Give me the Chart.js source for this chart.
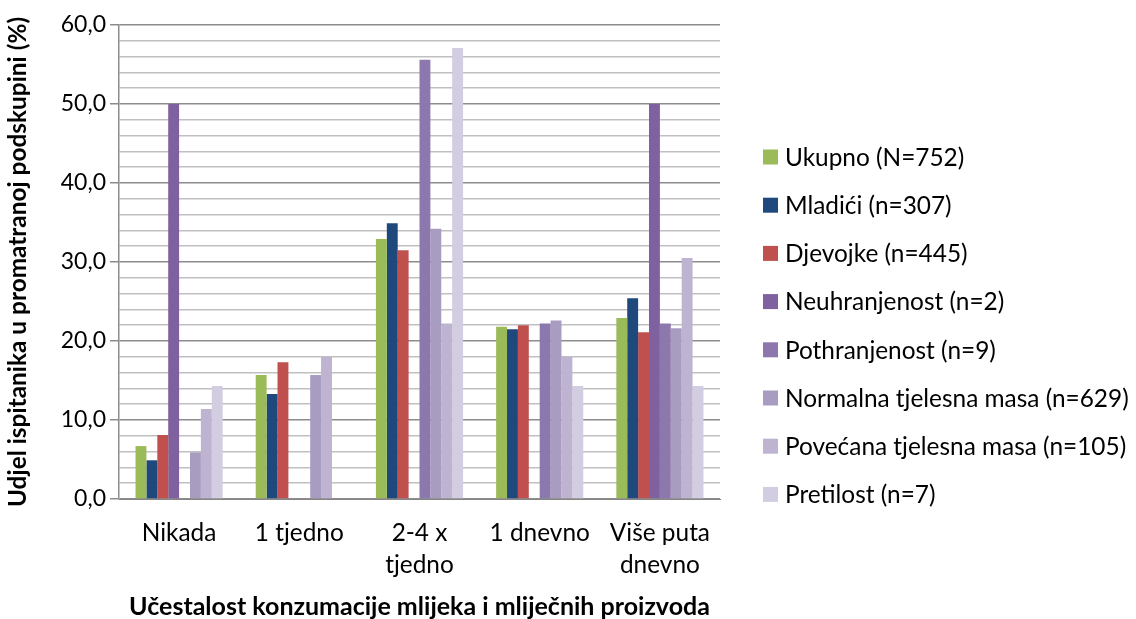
<!DOCTYPE html>
<html>
<head>
<meta charset="utf-8">
<script src="https://cdn.jsdelivr.net/npm/chart.js@4.4.1/dist/chart.umd.min.js"></script>
<style>
  html, body { margin: 0; padding: 0; background: #ffffff; }
  #wrap { width: 1136px; height: 619px; position: relative; }
</style>
</head>
<body>
<div id="wrap"><canvas id="c" width="1136" height="619"></canvas></div>
<script>
const categories = ["Nikada", "1 tjedno", ["2-4 x", "tjedno"], "1 dnevno", ["Više puta", "dnevno"]];
const seriesNames = [
  "Ukupno (N=752)",
  "Mladići (n=307)",
  "Djevojke (n=445)",
  "Neuhranjenost (n=2)",
  "Pothranjenost (n=9)",
  "Normalna tjelesna masa (n=629)",
  "Povećana tjelesna masa (n=105)",
  "Pretilost (n=7)"
];
const ukupno        = [6.7, 15.7, 32.9, 21.8, 22.9];
const mladici       = [4.9, 13.3, 34.9, 21.5, 25.4];
const djevojke      = [8.1, 17.3, 31.5, 22.0, 21.1];
const neuhranjenost = [50.0, 0.0, 0.0, 0.0, 50.0];
const pothranjenost = [0.0, 0.0, 55.6, 22.2, 22.2];
const normalna      = [5.9, 15.7, 34.2, 22.6, 21.6];
const povecana      = [11.4, 18.0, 22.2, 18.0, 30.5];
const pretilost     = [14.3, 0.0, 57.1, 14.3, 14.3];
const yTicks = [0, 10, 20, 30, 40, 50, 60];

const colors = ["#9BBB59", "#1F497D", "#C0504D", "#7E619E", "#8D78AD", "#A99CC1", "#BEB3D1", "#D3CDE1"];
const values = [ukupno, mladici, djevojke, neuhranjenost, pothranjenost, normalna, povecana, pretilost];

const FONT = "Lato, 'Liberation Sans', sans-serif";

const legendPlugin = {
  id: 'sideLegend',
  afterDraw(chart) {
    const ctx = chart.ctx;
    ctx.save();
    ctx.font = "24.4px " + FONT;
    ctx.textBaseline = 'middle';
    ctx.textAlign = 'left';
    chart.data.datasets.forEach((ds, i) => {
      const cy = 157 + 48.2 * i;
      ctx.fillStyle = ds.backgroundColor;
      ctx.fillRect(763, cy - 7.5, 15, 15);
      ctx.fillStyle = '#000000';
      ctx.fillText(ds.label, 785, cy + 1);
    });
    ctx.restore();
  }
};

new Chart(document.getElementById('c'), {
  type: 'bar',
  data: {
    labels: categories,
    datasets: seriesNames.map((name, i) => ({
      label: name,
      data: values[i],
      backgroundColor: colors[i],
      borderWidth: 0,
      categoryPercentage: 0.725,
      barPercentage: 1.0
    }))
  },
  options: {
    responsive: false,
    animation: false,
    devicePixelRatio: 1,
    layout: { padding: { left: 0, top: 25, right: 416, bottom: 0 } },
    plugins: {
      legend: { display: false },
      tooltip: { enabled: false }
    },
    scales: {
      x: {
        grid: { display: false, drawTicks: false },
        border: { display: true, color: '#868686', width: 1 },
        ticks: {
          color: '#000000',
          font: { family: FONT, size: 24.4, lineHeight: 1.31 },
          padding: 18,
          maxRotation: 0,
          autoSkip: false
        },
        title: {
          display: true,
          text: 'Učestalost konzumacije mlijeka i mliječnih proizvoda',
          color: '#000000',
          font: { family: FONT, size: 25, weight: 'bold', lineHeight: 1.0 },
          padding: { top: 0, bottom: 0 }
        },
        afterFit(scale) { scale.height = 120; }
      },
      y: {
        min: 0,
        max: 60,
        ticks: {
          stepSize: 2,
          autoSkip: false,
          color: '#000000',
          font: { family: FONT, size: 23 },
          padding: 4,
          callback(v) { return yTicks.includes(v) ? v.toFixed(1).replace('.', ',') : ''; }
        },
        grid: {
          color(ctx) { return (ctx.tick && ctx.tick.value % 10 === 0) ? '#8C8C8C' : '#C0C0C0'; },
          tickColor(ctx) { return (ctx.tick && ctx.tick.value % 10 === 0) ? '#8C8C8C' : 'rgba(0,0,0,0)'; },
          tickLength: 9,
          lineWidth: 1.5
        },
        border: { display: true, color: '#8C8C8C', width: 1.5 },
        title: {
          display: true,
          text: 'Udjel ispitanika u promatranoj podskupini (%)',
          color: '#000000',
          font: { family: FONT, size: 24.4, weight: 'bold', lineHeight: 1.0 },
          padding: { top: 6, bottom: 0 }
        },
        afterFit(scale) { scale.width = 119; }
      }
    }
  },
  plugins: [legendPlugin]
});
</script>
</body>
</html>
